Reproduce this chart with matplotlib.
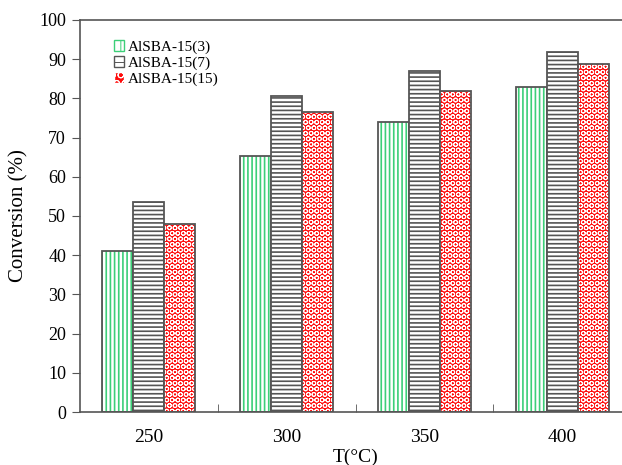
import numpy as np
import matplotlib
matplotlib.use("Agg")
import matplotlib.pyplot as plt
from matplotlib.patches import Patch

temps = ["250", "300", "350", "400"]
names = ["AlSBA-15(3)", "AlSBA-15(7)", "AlSBA-15(15)"]
s3 = [41.1, 65.3, 74.1, 82.8]
s7 = [53.5, 80.6, 87.0, 91.8]
s15 = [48.0, 76.5, 81.9, 88.8]

plt.rcParams["font.family"] = ["Liberation Serif", "DejaVu Serif"]
plt.rcParams["hatch.linewidth"] = 1.2

fig = plt.figure(figsize=(6.22, 4.65), dpi=100)
ax = fig.add_axes([80 / 622, 1 - 412 / 465, 551 / 622, 392 / 465])

x = np.arange(len(temps))
w = 0.225
edge = "#555555"
red = "#ff0a0a"

# green vertical lines
ax.bar(x - w, s3, w, color="white", edgecolor="#3ccf78", hatch="||||", linewidth=0)
ax.bar(x - w, s3, w, fill=False, edgecolor=edge, linewidth=1.3)
# gray horizontal lines
ax.bar(x, s7, w, color="white", edgecolor="#555555", hatch="----", linewidth=0)
ax.bar(x, s7, w, fill=False, edgecolor=edge, linewidth=1.3)
# red with white dots
plt.rcParams["hatch.linewidth"] = 0.7
ax.bar(x + w, s15, w, facecolor=red, edgecolor="white", hatch="OOO", linewidth=0)
ax.bar(x + w, s15, w, fill=False, edgecolor=edge, linewidth=1.3)

ax.set_xlim(-0.5, 3.5)
ax.set_ylim(0, 100)
ax.set_yticks(range(0, 101, 10))
ax.set_xticks(x)
ax.set_xticklabels(temps)
ax.set_xticks([0.5, 1.5, 2.5], minor=True)
ax.tick_params(axis="x", which="major", length=0, labelsize=14, pad=12)
ax.tick_params(axis="x", which="minor", direction="in", length=6, color="#555555")
ax.tick_params(axis="y", direction="out", length=6, labelsize=13, color="#555555", pad=4)

for s in ["left", "bottom", "top"]:
    ax.spines[s].set_color("#555555")
    ax.spines[s].set_linewidth(1.2)
ax.spines["right"].set_visible(False)

ax.set_xlabel("T(°C)", fontsize=14, labelpad=2)
ax.set_ylabel("Conversion (%)", fontsize=15, labelpad=8)

h = [
    Patch(facecolor="white", edgecolor="#3ccf78", hatch="||"),
    Patch(facecolor="white", edgecolor="#555555", hatch="--"),
    Patch(facecolor=red, edgecolor="white", hatch="OO"),
]
leg = ax.legend(h, names, loc="upper left", bbox_to_anchor=(0.05, 0.965), frameon=False,
                fontsize=11, handlelength=0.7, handleheight=0.7, handletextpad=0.2,
                labelspacing=0.15, borderaxespad=0)

fig.savefig("out.png", dpi=100)
